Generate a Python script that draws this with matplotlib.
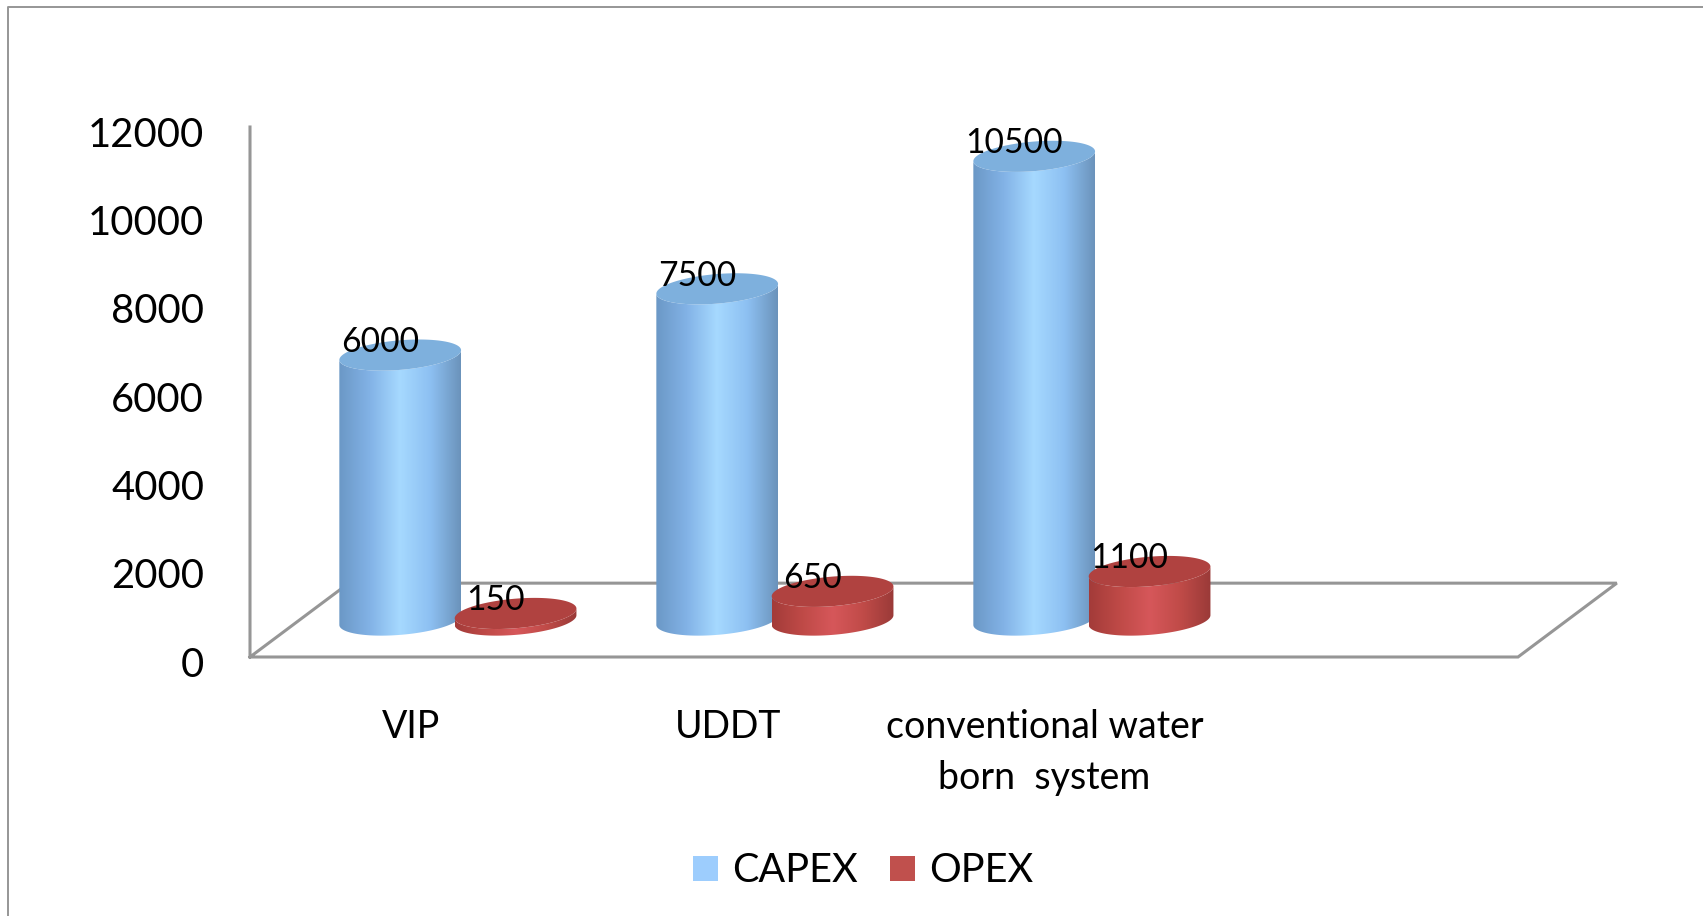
import numpy as np
import matplotlib
matplotlib.use("Agg")
import matplotlib.pyplot as plt
from matplotlib.colors import LinearSegmentedColormap
from matplotlib.lines import Line2D
from matplotlib.patches import Patch, Polygon
from matplotlib.transforms import ScaledTranslation

categories = ["VIP", "UDDT", "conventional water\nborn  system", ""]
capex = [6000, 7500, 10500]
opex = [150, 650, 1100]
y_ticks = [0, 2000, 4000, 6000, 8000, 10000, 12000]
series_names = ["CAPEX", "OPEX"]

plt.rcParams["font.family"] = ["Lato", "DejaVu Sans"]
DPI = 100
W, H = 1703, 916
fig = plt.figure(figsize=(W / DPI, H / DPI), dpi=DPI, facecolor="white")
ax = fig.add_axes([250 / W, 1 - 657 / H, (1518 - 250) / W, (657 - 127) / H])
ax.patch.set_alpha(0)
for s in ax.spines.values():
    s.set_visible(False)

GRAY = "#969696"
DEPTH_X, DEPTH_Y = 0.3116, 1672
HALF_W, ELL_H, TILT = 0.192, 335, 110
BAR_SHIFT = 0.182

blue_cmap = LinearSegmentedColormap.from_list(
    "b", ["#6b98c6", "#82b2e6", "#a6d9ff", "#8dc0f2", "#6b93bb"])
red_cmap = LinearSegmentedColormap.from_list(
    "r", ["#a33b39", "#bf4a47", "#d6575a", "#c04b48", "#9a3a38"])

# floor and wall
xl, xr = -0.5, 3.5
ax.plot([xl, xl, xr, xr + DEPTH_X, xl + DEPTH_X, xl],
        [12000, 0, 0, DEPTH_Y, DEPTH_Y, 0],
        color=GRAY, lw=2.2, clip_on=False, solid_joinstyle="miter", zorder=1)


def cylinder(cx, value, cmap, top_color, z):
    base = DEPTH_Y / 2
    top = base + value
    t = np.linspace(0, np.pi, 80)
    x_arc = cx + HALF_W * np.cos(t)
    tilt = TILT * np.cos(t)
    y_up = ELL_H * np.sin(t)
    bx = np.r_[x_arc, x_arc[::-1]]
    by = np.r_[top + tilt - y_up, (base + tilt - y_up)[::-1]]
    body = Polygon(np.c_[bx, by], closed=True, transform=ax.transData,
                   fc="none", ec="none")
    ax.add_patch(body)
    grad = np.linspace(0, 1, 256)[None, :]
    im = ax.imshow(grad, cmap=cmap, aspect="auto", interpolation="bilinear",
                   extent=[cx - HALF_W, cx + HALF_W, base - 600, top + 600],
                   zorder=z)
    im.set_clip_path(body)
    tt = np.linspace(0, 2 * np.pi, 160)
    ax.fill(cx + HALF_W * np.cos(tt),
            top + TILT * np.cos(tt) + ELL_H * np.sin(tt),
            color=top_color, zorder=z + 0.1, lw=0)


pos = np.arange(3)
for i in pos:
    z = 3 + i * 2
    cx_b = i + DEPTH_X / 2 - BAR_SHIFT
    cx_r = i + DEPTH_X / 2 + BAR_SHIFT
    cylinder(cx_b, capex[i], blue_cmap, "#7eb0dd", z)
    cylinder(cx_r, opex[i], red_cmap, "#b04240", z + 1)
    for cx, v in ((cx_b, capex[i]), (cx_r, opex[i])):
        ax.annotate(str(v), (cx, DEPTH_Y / 2 + v), xytext=(-20, 13),
                    textcoords="offset pixels", ha="center", va="center",
                    fontsize=24.2, color="black", zorder=20)

ax.set_xlim(xl, xr)
ax.set_ylim(0, 12000)
ax.set_xticks(np.arange(len(categories)))
ax.set_xticklabels(categories, fontsize=27, linespacing=1.5)
ax.set_yticks(y_ticks)
ax.set_yticklabels([str(v) for v in y_ticks], fontsize=28.8)
ax.tick_params(axis="x", length=0, pad=37.5)
ax.tick_params(axis="y", length=0, pad=33)
shift_y = ScaledTranslation(0, -3.4 / 72, fig.dpi_scale_trans)
for lab in ax.get_yticklabels():
    lab.set_transform(lab.get_transform() + shift_y)
shift_x = ScaledTranslation(1.5 / 72, 0, fig.dpi_scale_trans)
for lab in ax.get_xticklabels():
    lab.set_transform(lab.get_transform() + shift_x)

handles = [Patch(fc="#9dcdfd", ec="none"), Patch(fc="#c0504d", ec="none")]
fig.legend(handles, series_names, loc="center",
           bbox_to_anchor=(863 / W, 1 - 871 / H), frameon=False, ncol=2,
           fontsize=28.5, handlelength=0.65, handleheight=0.62,
           handletextpad=0.35, columnspacing=0.8, borderpad=0)

# outer chart frame
fig.add_artist(Line2D([8 / W, 8 / W, 1], [0, 1 - 7 / H, 1 - 7 / H],
                      color=GRAY, lw=1.4, transform=fig.transFigure))

fig.savefig("out.png", dpi=DPI, facecolor="white")
